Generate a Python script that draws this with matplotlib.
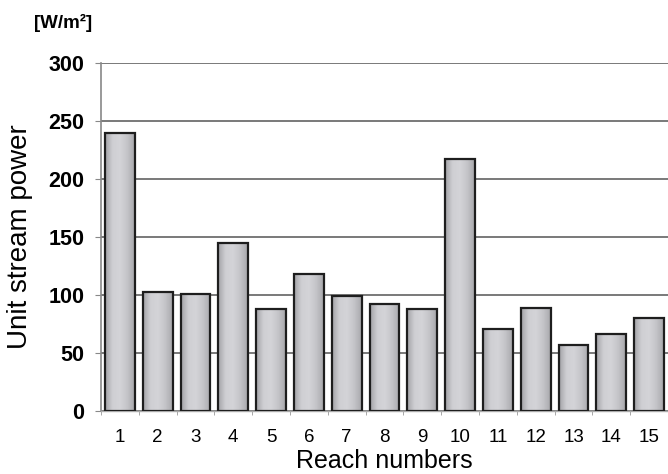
import matplotlib
matplotlib.use("Agg")
import matplotlib.pyplot as plt
import numpy as np
from matplotlib.colors import LinearSegmentedColormap

reaches = [str(i) for i in range(1, 16)]
stream_power = [240, 103, 101, 145, 88, 118, 99, 92, 88, 217, 71, 89, 57, 66, 80]
yticks = [0, 50, 100, 150, 200, 250, 300]

plt.rcParams['font.family'] = ['Liberation Sans', 'DejaVu Sans']

fig = plt.figure(figsize=(6.68, 4.74), dpi=100)
ax = fig.add_axes([0.1512, 0.1329, 0.8488, 0.7342])

x = np.arange(len(stream_power))
bars = ax.bar(x, stream_power, width=0.79, facecolor='none',
              edgecolor='#1e1e1e', linewidth=1.6, zorder=3)

cmap = LinearSegmentedColormap.from_list(
    'barg', ['#a4a4a8', '#cfcfd3', '#d4d4d8', '#c4c4c8', '#a8a8ac'])
grad = np.linspace(0, 1, 64).reshape(1, -1)
for b in bars:
    x0, w, h = b.get_x(), b.get_width(), b.get_height()
    im = ax.imshow(grad, extent=[x0, x0 + w, 0, h], aspect='auto',
                   cmap=cmap, zorder=2, interpolation='bilinear')
    im.set_clip_path(b)

ax.set_xlim(-0.5, 14.3)
ax.set_ylim(0, 300)
ax.set_yticks(yticks)
ax.set_yticklabels([str(v) for v in yticks], fontsize=15.5, fontweight='bold')
ax.set_xticks(x)
ax.set_xticklabels(reaches, fontsize=13.5)
ax.set_xticks(np.arange(-0.5, 15, 1), minor=True)
ax.tick_params(axis='x', which='major', length=0, pad=13)
ax.tick_params(axis='x', which='minor', length=3, color='#999999')
ax.tick_params(axis='y', length=4, color='#888888', pad=8)

ax.yaxis.grid(True, color='#555555', linewidth=1.1, zorder=1)
ax.set_axisbelow(True)
for s in ['top', 'right']:
    ax.spines[s].set_visible(False)
ax.spines['left'].set_color('#888888')
ax.spines['left'].set_linewidth(1.2)
ax.spines['bottom'].set_color('#aaaaaa')
ax.spines['bottom'].set_linewidth(1.0)

ax.set_xlabel('Reach numbers', fontsize=18, labelpad=2)
ax.set_ylabel('Unit stream power', fontsize=20, labelpad=11)

fig.text(0.051, 0.952, '[W/m²]', fontsize=13.5, fontweight='bold',
         ha='left', va='center')

fig.savefig('out.png', dpi=100)
